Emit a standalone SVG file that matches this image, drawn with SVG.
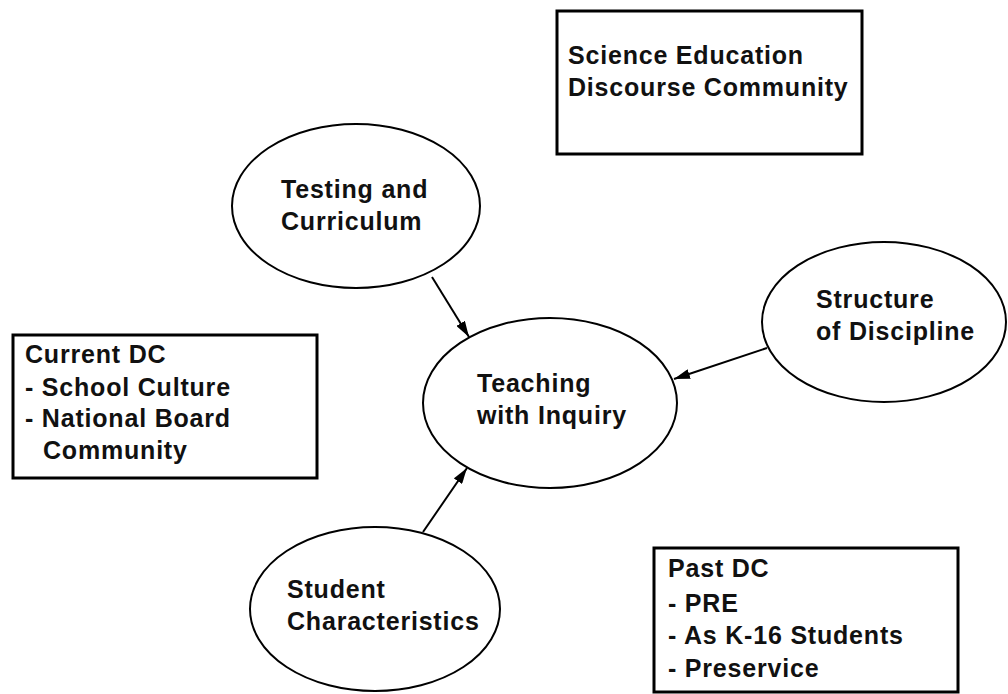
<svg xmlns="http://www.w3.org/2000/svg" width="1008" height="694" viewBox="0 0 1008 694">
<style>
.box{fill:#fff;stroke:#000;stroke-width:3}
.ell{fill:#fff;stroke:#000;stroke-width:2}
.t{font-family:"Liberation Sans",Arial,sans-serif;font-weight:bold;font-size:25px;letter-spacing:0.8px;fill:#111}
.c{stroke:#000;stroke-width:2;fill:none;marker-end:url(#ah)}
</style>
<defs>
<marker id="ah" viewBox="0 0 16 10" refX="16" refY="5" markerWidth="16" markerHeight="10" markerUnits="userSpaceOnUse" orient="auto">
<path d="M0,0 L16,5 L0,10 Z" fill="#000"/>
</marker>
</defs>
<rect width="1008" height="694" fill="#fff"/>
<g id="science-education">
<rect class="box" x="557" y="11" width="305" height="143"/>
<text class="t" x="568" y="64">Science Education</text>
<text class="t" x="568" y="96">Discourse Community</text>
</g>
<g id="testing-curriculum">
<ellipse class="ell" cx="356" cy="206" rx="124" ry="82"/>
<text class="t" x="281" y="198">Testing and</text>
<text class="t" x="281" y="230">Curriculum</text>
</g>
<g id="structure-discipline">
<ellipse class="ell" cx="884" cy="322" rx="122" ry="80"/>
<text class="t" x="816" y="308">Structure</text>
<text class="t" x="816" y="340">of Discipline</text>
</g>
<g id="teaching-inquiry">
<ellipse class="ell" cx="550" cy="403" rx="127" ry="85"/>
<text class="t" x="477" y="392">Teaching</text>
<text class="t" x="477" y="424">with Inquiry</text>
</g>
<g id="current-dc">
<rect class="box" x="13" y="335" width="304" height="143"/>
<text class="t" x="25" y="363">Current DC</text>
<text class="t" x="25" y="396">- School Culture</text>
<text class="t" x="25" y="427">- National Board</text>
<text class="t" x="43" y="459">Community</text>
</g>
<g id="student-characteristics">
<ellipse class="ell" cx="375" cy="609" rx="125" ry="82"/>
<text class="t" x="287" y="598">Student</text>
<text class="t" x="287" y="630">Characteristics</text>
</g>
<g id="past-dc">
<rect class="box" x="654" y="548" width="304" height="144"/>
<text class="t" x="668" y="577">Past DC</text>
<text class="t" x="668" y="612">- PRE</text>
<text class="t" x="668" y="644">- As K-16 Students</text>
<text class="t" x="668" y="677">- Preservice</text>
</g>
<g id="connectors">
<line class="c" x1="432" y1="277" x2="469" y2="337"/>
<line class="c" x1="767" y1="348" x2="674" y2="379"/>
<line class="c" x1="423" y1="532" x2="467" y2="468"/>
</g>
</svg>
